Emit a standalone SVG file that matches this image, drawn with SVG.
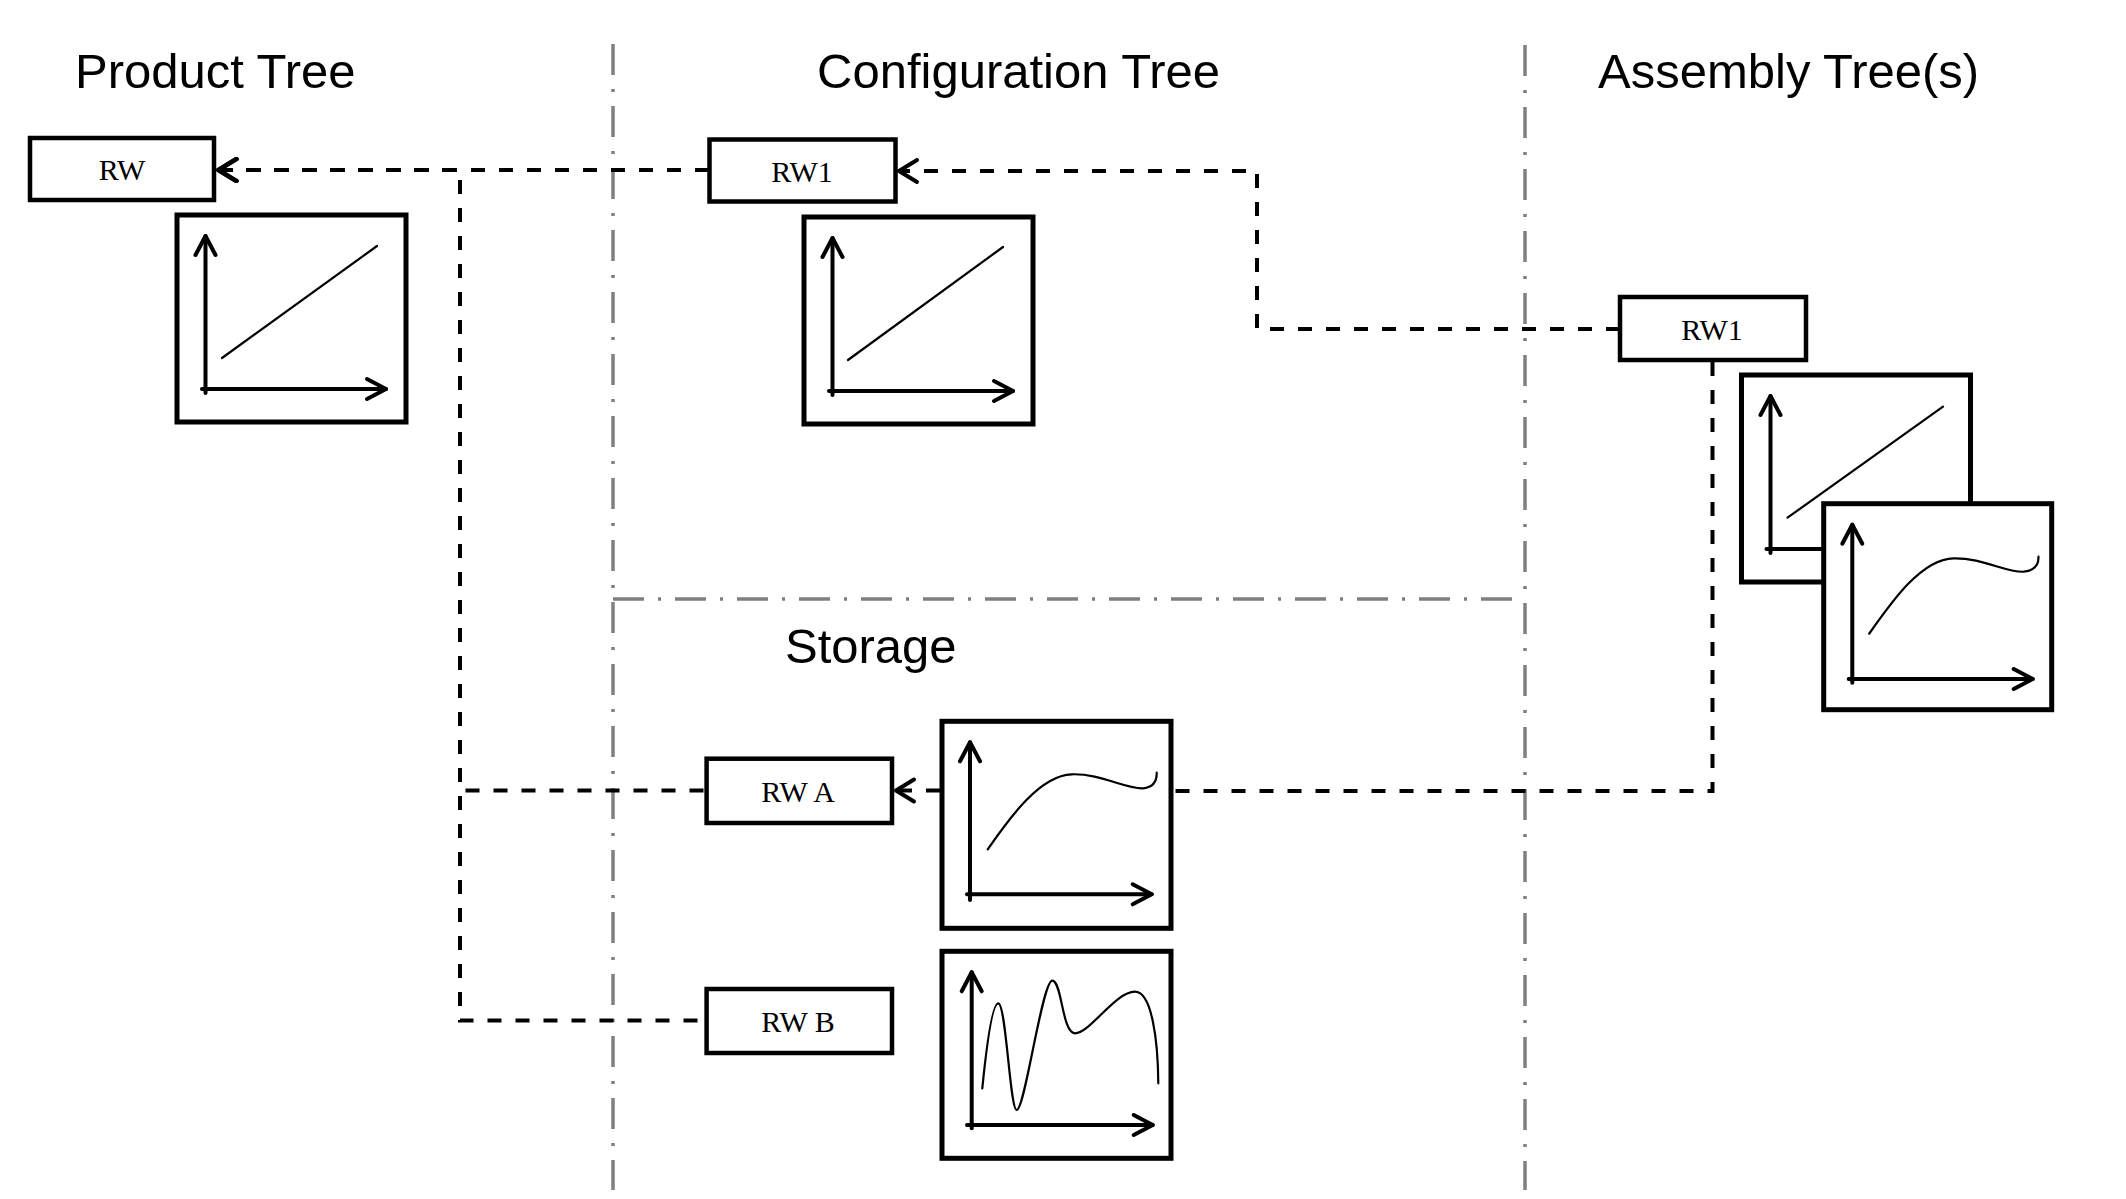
<svg xmlns="http://www.w3.org/2000/svg" width="2126" height="1199" viewBox="0 0 2126 1199">
<style>
.bg{fill:#fff}
.lane{fill:none;stroke:#808080;stroke-width:3.5;stroke-dasharray:31 14 3 14}
.head{font-family:"Liberation Sans",Arial,sans-serif;font-size:49px;fill:#000}
.lbl{font-family:"Liberation Serif","Times New Roman",serif;font-size:30px;fill:#000;text-anchor:middle}
.box{fill:#fff;stroke:#000;stroke-width:4.5}
.frame{fill:#fff;stroke:#000;stroke-width:5}
.axis{fill:none;stroke:#000;stroke-width:4;stroke-linecap:round;marker-end:url(#ax)}
.plot{fill:none;stroke:#000;stroke-width:2.2;stroke-linecap:round}
.conn{fill:none;stroke:#000;stroke-width:4;stroke-dasharray:14 14}
</style>
<defs>
<marker id="arr" viewBox="-24 -15 28 30" refX="0" refY="0" markerWidth="28" markerHeight="30" markerUnits="userSpaceOnUse" orient="auto-start-reverse">
<path d="M-18,-11 L0,0 L-18,11" fill="none" stroke="#000" stroke-width="4" stroke-dasharray="none" stroke-linecap="round" stroke-linejoin="round"/>
</marker>
<marker id="ax" viewBox="-24 -14 28 28" refX="0" refY="0" markerWidth="28" markerHeight="28" markerUnits="userSpaceOnUse" orient="auto">
<path d="M-19,-10 L0,0 L-19,10" fill="none" stroke="#000" stroke-width="4" stroke-linecap="round" stroke-linejoin="round"/>
</marker>
</defs>
<rect class="bg" x="0" y="0" width="2126" height="1199"/>

<g id="lanes">
<line class="lane" x1="613" y1="44" x2="613" y2="1190"/>
<line class="lane" x1="1525" y1="45" x2="1525" y2="1190"/>
<line class="lane" x1="613" y1="599" x2="1525" y2="599"/>
</g>

<g id="headings">
<text class="head" x="75" y="88">Product Tree</text>
<text class="head" x="817" y="88">Configuration Tree</text>
<text class="head" x="1598" y="88">Assembly Tree(s)</text>
<text class="head" x="785" y="663">Storage</text>
</g>

<g id="connectors">
<path class="conn" d="M709,170 H219" marker-end="url(#arr)"/>
<path class="conn" d="M218,170 H460 V790.5 H706" marker-start="url(#arr)"/>
<path class="conn" d="M218,170 H460 V1020.5 H706" marker-start="url(#arr)"/>
<path class="conn" d="M1620,329 H1257 V171 H899" marker-end="url(#arr)"/>
<path class="conn" d="M940,790.5 H896" marker-end="url(#arr)"/>
<path class="conn" d="M1712.5,362 V791 H1173"/>
</g>

<g id="node-rw">
<rect class="box" x="30" y="138" width="184" height="62"/>
<text class="lbl" x="122" y="180">RW</text>
</g>
<g id="chart-product" transform="translate(177,215)">
<rect class="frame" x="0" y="0" width="229" height="207"/>
<line class="axis" x1="28.5" y1="178" x2="28.5" y2="21"/>
<line class="axis" x1="25" y1="174" x2="209" y2="174"/>
<line class="plot" x1="45" y1="143" x2="200" y2="31"/>
</g>

<g id="node-rw1-config">
<rect class="box" x="709.5" y="139.5" width="186" height="62"/>
<text class="lbl" x="802" y="182">RW1</text>
</g>
<g id="chart-config" transform="translate(804,217)">
<rect class="frame" x="0" y="0" width="229" height="207"/>
<line class="axis" x1="28.5" y1="178" x2="28.5" y2="21"/>
<line class="axis" x1="25" y1="174" x2="209" y2="174"/>
<line class="plot" x1="44" y1="143" x2="199" y2="30"/>
</g>

<g id="node-rw1-assembly">
<rect class="box" x="1620" y="297" width="186" height="63"/>
<text class="lbl" x="1712" y="340">RW1</text>
</g>
<g id="chart-assembly-1" transform="translate(1741.5,375)">
<rect class="frame" x="0" y="0" width="229" height="207"/>
<line class="axis" x1="29" y1="178" x2="29" y2="21"/>
<line class="axis" x1="25" y1="174" x2="209" y2="174"/>
<line class="plot" x1="46" y1="142.7" x2="201.5" y2="31.7"/>
</g>
<g id="chart-assembly-2" transform="translate(1823.7,503.7)">
<rect class="frame" x="0" y="0" width="228" height="206"/>
<line class="axis" x1="28.6" y1="179" x2="28.6" y2="21"/>
<line class="axis" x1="25" y1="175.3" x2="209" y2="175.3"/>
<path class="plot" d="M45.5,130 C 68,98 98,55 130,54.6 C 158,54 183,69 200,68 C 210,67 215,62 214.8,53"/>
</g>

<g id="node-rwa">
<rect class="box" x="706.6" y="758.7" width="185.4" height="64.3"/>
<text class="lbl" x="798" y="802">RW A</text>
</g>
<g id="chart-storage-a" transform="translate(942,721.3)">
<rect class="frame" x="0" y="0" width="229" height="207"/>
<line class="axis" x1="28" y1="178.7" x2="28" y2="21"/>
<line class="axis" x1="25" y1="173" x2="209.7" y2="173"/>
<path class="plot" d="M45.7,128 C 68,96 98,54 129.7,53 C 158,52 184,68 201.3,67 C 211,66 215,61 214.7,51.4"/>
</g>

<g id="node-rwb">
<rect class="box" x="706.6" y="989" width="185.4" height="64"/>
<text class="lbl" x="798" y="1032">RW B</text>
</g>
<g id="chart-storage-b" transform="translate(942,951.3)">
<rect class="frame" x="0" y="0" width="229" height="207"/>
<line class="axis" x1="29.7" y1="177" x2="29.7" y2="21"/>
<line class="axis" x1="25" y1="173.7" x2="210.7" y2="173.7"/>
<path class="plot" d="M40.3,137 C 44,100 50,52 56.3,52 C 64,52 68,158.7 74.7,158.7 C 83,158.7 100,29.4 110.3,29.4 C 120,29.4 120,82 133,82 C 148,82 173,40.4 193,40.4 C 210,40.4 216,90 216.3,132"/>
</g>
</svg>
